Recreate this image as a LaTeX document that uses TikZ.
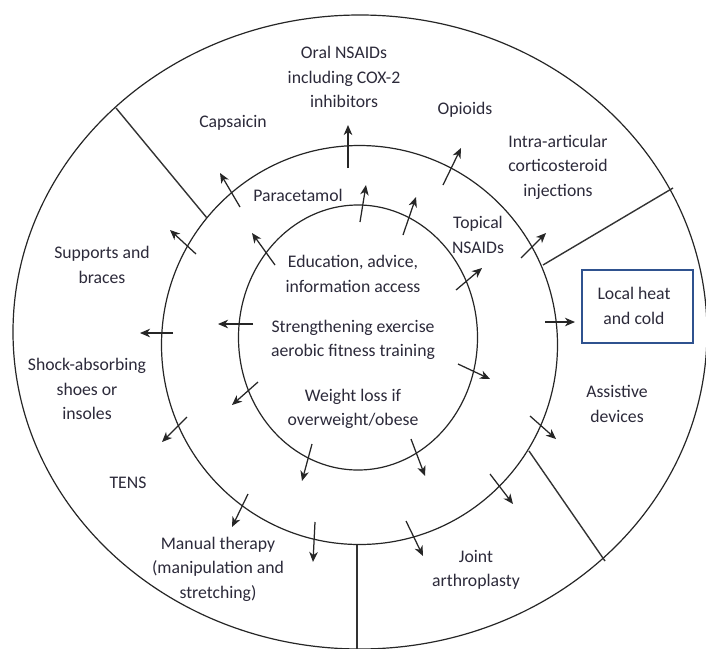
\documentclass[tikz,border=0pt]{standalone}
\usepackage{fontspec}
\setmainfont{Carlito}
\usetikzlibrary{arrows.meta}
\definecolor{txt}{RGB}{44,42,58}
\definecolor{boxblue}{RGB}{47,82,143}
\begin{document}
\begin{tikzpicture}[x=1pt,y=-1pt,
  lab/.style={font=\fontsize{17.7}{24.5}\selectfont, text=txt, align=center, inner sep=0pt},
  ring/.style={line width=1.2pt, draw=black!85},
  divider/.style={line width=1.4pt, draw=black!80},
  arr/.style={line width=1.25pt, draw=black!85, -{Stealth[length=10pt,width=8.5pt,inset=3pt]}},
  hotbox/.style={draw=boxblue, line width=1.8pt, fill=white}]
\useasboundingbox (0,0) rectangle (706,648);
\clip (0,0) rectangle (706,648);
\fill[white] (0,0) rectangle (706,648);
% rings
\draw[ring] (360,332) ellipse [x radius=347, y radius=317];
\draw[ring] (359.5,345) ellipse [x radius=198, y radius=199.5];
\draw[ring] (358,337.5) ellipse [x radius=119.5, y radius=132.5];
% dividers
\coordinate (d1a) at (116,108); \coordinate (d1b) at (207,218);
\coordinate (d2a) at (543,265); \coordinate (d2b) at (673,188);
\coordinate (d3a) at (529,451); \coordinate (d3b) at (605,561);
\coordinate (d4a) at (357,545); \coordinate (d4b) at (357,652);
\draw[divider] (d1a) -- (d1b);
\draw[divider] (d2a) -- (d2b);
\draw[divider] (d3a) -- (d3b);
\draw[divider] (d4a) -- (d4b);
% arrows from inner ring
\foreach \tx/\ty/\hx/\hy in {275/265/252/233, 360/222/366/185, 403/235/416/197,
  456/290/482/268, 253/324/218/324, 458/364/490/379, 258/382/232/405,
  312/444/302/481, 411/439/425/476}
  \draw[arr] (\tx,\ty) -- (\hx,\hy);
% arrows from middle ring
\foreach \tx/\ty/\hx/\hy in {240/207/220/173, 196/254/170/230, 348/168/348/125,
  443/185/461/148, 521/258/546/233, 545/322/575/322, 173/333/140/333,
  187/417/162/442, 248/494/232/527, 315/522/313/562, 406/521/423/556,
  490/474/513/504, 530/416/556/439}
  \draw[arr] (\tx,\ty) -- (\hx,\hy);
% centre labels
\node[lab] (edu) at (353,274) {Education, advice,\\information access};
\node[lab] (str) at (353,340) {Strengthening exercise\\aerobic fitness training};
\node[lab] (wei) at (353,409) {Weight loss if\\overweight/obese};
% middle ring labels
\node[lab] (par) at (298,195) {Paracetamol};
\node[lab] (top) at (478,235) {Topical\\NSAIDs};
% outer ring labels
\node[lab] (ora) at (344,77) {Oral NSAIDs\\including COX-2\\inhibitors};
\node[lab] (cap) at (233,123) {Capsaicin};
\node[lab] (opi) at (465,110) {Opioids};
\node[lab] (int) at (558,167) {Intra-articular\\corticosteroid\\injections};
\node[lab] (sup) at (102,265) {Supports and\\braces};
\node[lab] (sho) at (87,389) {Shock-absorbing\\shoes or\\insoles};
\node[lab] (ten) at (128,483) {TENS};
\node[lab] (man) at (218,569) {Manual therapy\\(manipulation and\\stretching)};
\node[lab] (joi) at (476,570) {Joint\\arthroplasty};
\node[lab] (ass) at (617,404) {Assistive\\devices};
\draw[hotbox] (582,270) rectangle (693,343);
\node[lab] (loc) at (634,306) {Local heat\\and cold};
\end{tikzpicture}
\end{document}
